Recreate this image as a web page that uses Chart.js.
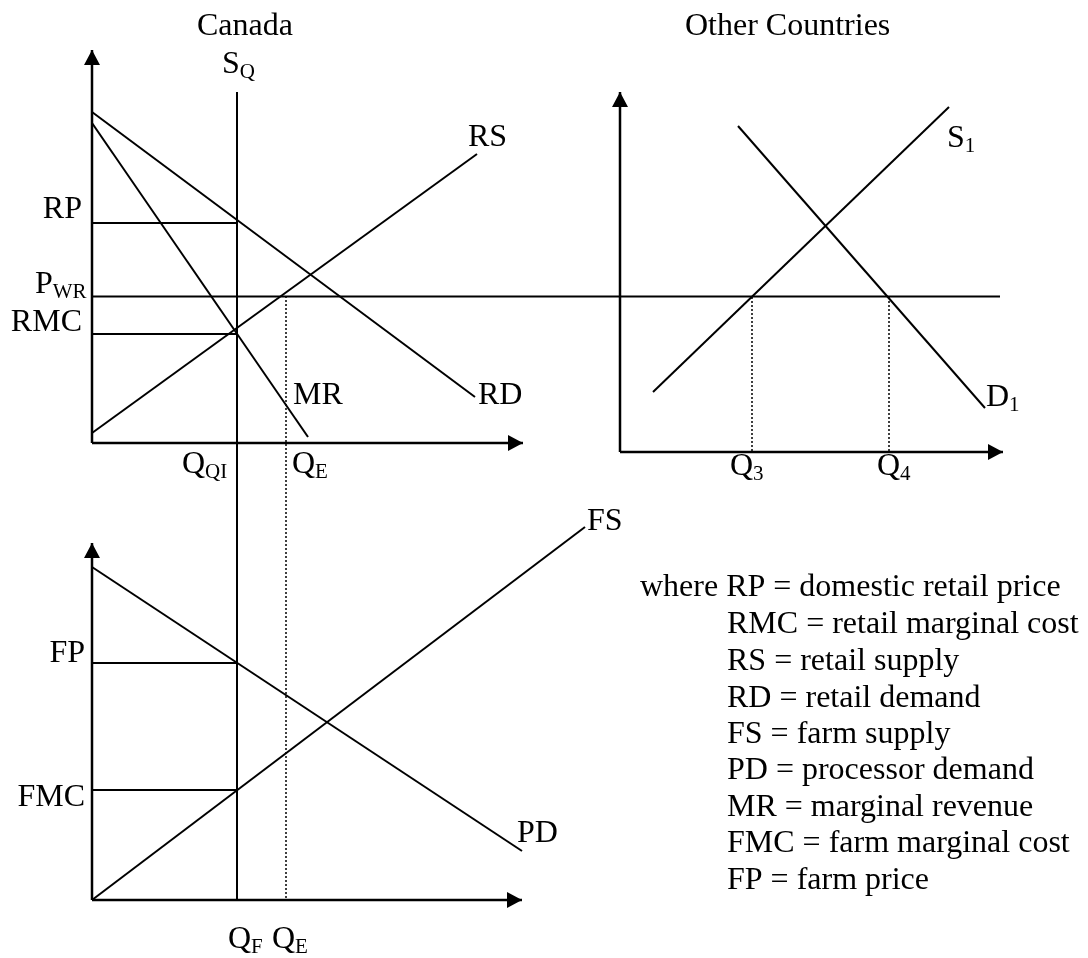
<!DOCTYPE html>
<html>
<head>
<meta charset="utf-8">
<title>Canada / Other Countries</title>
<script src="https://cdn.jsdelivr.net/npm/chart.js@4.4.1/dist/chart.umd.min.js"></script>
<style>
    html, body { margin: 0; padding: 0; background: #ffffff; }
    #wrap { position: relative; width: 1088px; height: 958px; }
</style>
</head>
<body>
<div id="wrap"><canvas id="diagram"></canvas></div>
<script>
// --- Diagram data (diagram units, y grows downward) ---
// Canada, retail market (top panel)
const canadaAxisY = [{ x: 92, y: 443 }, { x: 92, y: 50 }];
const canadaAxisX = [{ x: 92, y: 443 }, { x: 523, y: 443 }];
const quotaSQ = [{ x: 237, y: 92 }, { x: 237, y: 900 }];
const retailDemand = [{ x: 92, y: 112 }, { x: 475, y: 397 }];
const marginalRevenue = [{ x: 92, y: 123 }, { x: 308, y: 437 }];
const retailSupply = [{ x: 92, y: 433 }, { x: 477, y: 154 }];
const retailPrice = [{ x: 92, y: 223 }, { x: 237, y: 223 }];
const retailMC = [{ x: 92, y: 334 }, { x: 237, y: 334 }];
const worldPrice = [{ x: 92, y: 296.5 }, { x: 1000, y: 296.5 }];
const qE = [{ x: 286, y: 296 }, { x: 286, y: 900 }];

// Other countries
const otherAxisY = [{ x: 620, y: 452 }, { x: 620, y: 92 }];
const otherAxisX = [{ x: 620, y: 452 }, { x: 1003, y: 452 }];
const supplyS1 = [{ x: 653, y: 392 }, { x: 949, y: 107 }];
const demandD1 = [{ x: 738, y: 126 }, { x: 985, y: 408 }];
const q3 = [{ x: 752, y: 297 }, { x: 752, y: 452 }];
const q4 = [{ x: 889, y: 297 }, { x: 889, y: 452 }];

// Canada, farm market (bottom panel)
const farmAxisY = [{ x: 92, y: 900 }, { x: 92, y: 543 }];
const farmAxisX = [{ x: 92, y: 900 }, { x: 522, y: 900 }];
const processorDemand = [{ x: 92, y: 567 }, { x: 522, y: 851 }];
const farmSupply = [{ x: 92, y: 900 }, { x: 585, y: 527 }];
const farmPrice = [{ x: 92, y: 663 }, { x: 237, y: 663 }];
const farmMC = [{ x: 92, y: 790 }, { x: 237, y: 790 }];

// Curve / axis labels: [text, subscript, x, y, align]
const curveLabels = [
    ['Canada', '', 245, 35, 'center'],
    ['Other Countries', '', 685, 35, 'left'],
    ['S', 'Q', 222, 73, 'left'],
    ['RP', '', 82, 218, 'right'],
    ['P', 'WR', 35, 293, 'left'],
    ['RMC', '', 82, 331, 'right'],
    ['RS', '', 468, 146, 'left'],
    ['MR', '', 293, 404, 'left'],
    ['RD', '', 478, 404, 'left'],
    ['Q', 'QI', 182, 473, 'left'],
    ['Q', 'E', 292, 473, 'left'],
    ['S', '1', 947, 147, 'left'],
    ['D', '1', 986, 406, 'left'],
    ['Q', '3', 730, 475, 'left'],
    ['Q', '4', 877, 475, 'left'],
    ['FP', '', 85, 662, 'right'],
    ['FMC', '', 85, 806, 'right'],
    ['FS', '', 587, 530, 'left'],
    ['PD', '', 517, 842, 'left'],
    ['Q', 'F', 228, 948, 'left'],
    ['Q', 'E', 272, 948, 'left']
];

// Key text on the right
const keyLines = [
    'where RP = domestic retail price',
    'RMC = retail marginal cost',
    'RS = retail supply',
    'RD = retail demand',
    'FS = farm supply',
    'PD = processor demand',
    'MR = marginal revenue',
    'FMC = farm marginal cost',
    'FP = farm price'
];
const keyX = [640, 727, 727, 727, 727, 727, 727, 727, 727];
const keyY = [596, 633, 670, 707, 743, 779, 816, 852, 889];

document.addEventListener('DOMContentLoaded', function() {

    const FONT = '"Liberation Serif", "Times New Roman", serif';
    const MAIN = '32px ' + FONT;
    const SUB = '21px ' + FONT;

    function seg(points, width, extra) {
        return Object.assign({
            data: points,
            showLine: true,
            borderColor: '#000000',
            borderWidth: width,
            pointRadius: 0,
            fill: false,
            tension: 0
        }, extra || {});
    }

    // Arrowheads at the last point of axis datasets
    const arrowPlugin = {
        id: 'arrowHeads',
        afterDatasetsDraw(chart) {
            const c = chart.ctx;
            chart.data.datasets.forEach((ds, i) => {
                if (!ds.arrow) return;
                const pts = chart.getDatasetMeta(i).data;
                const tip = pts[pts.length - 1];
                c.save();
                c.fillStyle = '#000000';
                c.beginPath();
                if (ds.arrow === 'up') {
                    c.moveTo(tip.x, tip.y);
                    c.lineTo(tip.x - 8, tip.y + 15);
                    c.lineTo(tip.x + 8, tip.y + 15);
                } else {
                    c.moveTo(tip.x, tip.y);
                    c.lineTo(tip.x - 15, tip.y - 8);
                    c.lineTo(tip.x - 15, tip.y + 8);
                }
                c.closePath();
                c.fill();
                c.restore();
            });
        }
    };

    // Text labels, placed through the scales
    const textPlugin = {
        id: 'diagramText',
        afterDraw(chart) {
            const c = chart.ctx;
            const sx = chart.scales.x, sy = chart.scales.y;
            c.save();
            c.fillStyle = '#000000';
            c.textBaseline = 'alphabetic';
            c.textAlign = 'left';
            curveLabels.forEach(([txt, sub, x, y, align]) => {
                c.font = MAIN;
                const w = c.measureText(txt).width;
                c.font = SUB;
                const ws = sub ? c.measureText(sub).width : 0;
                let left = sx.getPixelForValue(x);
                if (align === 'right') left -= w + ws;
                if (align === 'center') left -= (w + ws) / 2;
                const base = sy.getPixelForValue(y);
                c.font = MAIN;
                c.fillText(txt, left, base);
                if (sub) {
                    c.font = SUB;
                    c.fillText(sub, left + w, base + 5);
                }
            });
            c.font = MAIN;
            keyLines.forEach((line, i) => {
                c.fillText(line, sx.getPixelForValue(keyX[i]), sy.getPixelForValue(keyY[i]));
            });
            c.restore();
        }
    };

    const ctx = document.getElementById('diagram');
    new Chart(ctx, {
        type: 'scatter',
        data: {
            datasets: [
                seg(canadaAxisY, 2.5, { arrow: 'up' }),
                seg(canadaAxisX, 2.5, { arrow: 'right' }),
                seg(otherAxisY, 2.5, { arrow: 'up' }),
                seg(otherAxisX, 2.5, { arrow: 'right' }),
                seg(farmAxisY, 2.5, { arrow: 'up' }),
                seg(farmAxisX, 2.5, { arrow: 'right' }),
                seg(quotaSQ, 2),
                seg(retailDemand, 2),
                seg(marginalRevenue, 2),
                seg(retailSupply, 2),
                seg(retailPrice, 2),
                seg(retailMC, 2),
                seg(worldPrice, 2),
                seg(qE, 1.5, { borderDash: [2, 2] }),
                seg(supplyS1, 2),
                seg(demandD1, 2),
                seg(q3, 1.5, { borderDash: [2, 2] }),
                seg(q4, 1.5, { borderDash: [2, 2] }),
                seg(processorDemand, 2),
                seg(farmSupply, 2),
                seg(farmPrice, 2),
                seg(farmMC, 2)
            ]
        },
        options: {
            responsive: true,
            maintainAspectRatio: false,
            animation: false,
            events: [],
            layout: { padding: 0 },
            scales: {
                x: { type: 'linear', min: 0, max: 1088, display: false },
                y: { type: 'linear', min: 0, max: 958, reverse: true, display: false }
            },
            plugins: {
                legend: { display: false },
                tooltip: { enabled: false }
            }
        },
        plugins: [arrowPlugin, textPlugin]
    });

});
</script>
</body>
</html>
